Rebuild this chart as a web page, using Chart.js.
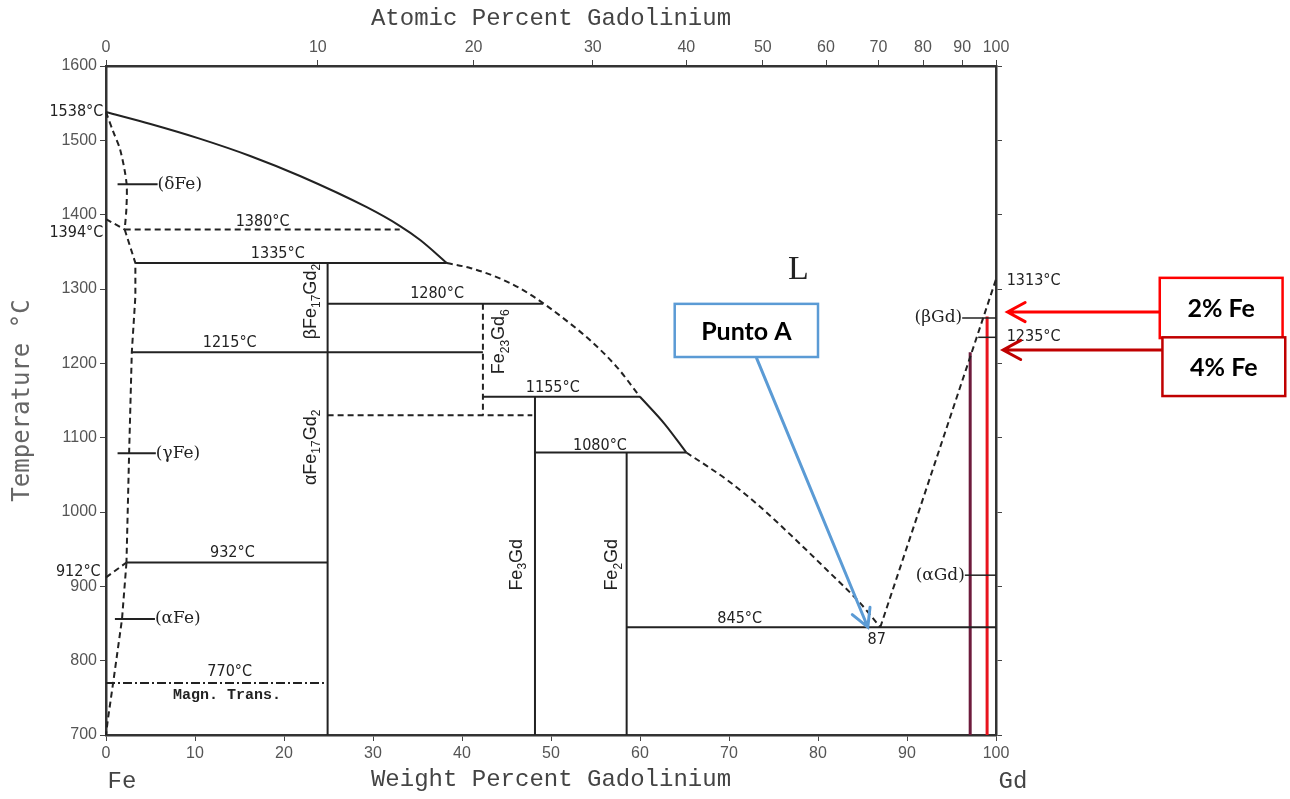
<!DOCTYPE html>
<html>
<head>
<meta charset="utf-8">
<title>Fe-Gd phase diagram</title>
<script src="https://cdn.jsdelivr.net/npm/chart.js@4.4.1/dist/chart.umd.min.js"></script>
<style>
  html, body { margin: 0; padding: 0; background: #fff; }
  canvas { display: block; }
</style>
</head>
<body>
<canvas id="myChart" width="1290" height="799"></canvas>
<script>
'use strict';

// axis ticks
let wtTicks = [0, 10, 20, 30, 40, 50, 60, 70, 80, 90, 100];
let tempTicks = [700, 800, 900, 1000, 1100, 1200, 1300, 1400, 1500, 1600];
let atTickLabels = [0, 10, 20, 30, 40, 50, 60, 70, 80, 90, 100];
// where the atomic % ticks sit on the weight % scale
let atTickPos = [0, 23.8, 41.3, 54.7, 65.2, 73.8, 80.9, 86.8, 91.8, 96.2, 100];

// liquidus  [wt% Gd, °C]
let liquidusFe = [[0, 1538], [5, 1522], [10.6, 1502], [16.2, 1479], [21.8, 1452], [29.3, 1410], [33, 1385], [35.3, 1366], [38.3, 1335]];
let liquidusMid = [[38.3, 1335], [41, 1328], [43.9, 1316], [46.5, 1301], [49.1, 1281], [52.1, 1254], [54.4, 1231], [57.4, 1195], [60, 1155]];
let liquidusFe2Gd = [[60, 1155], [62.8, 1118], [65.2, 1080]];
let liquidusLow = [[65.2, 1080], [67.5, 1062], [69.8, 1043], [73.5, 1007], [77.2, 966], [81, 922], [84.7, 878], [87, 845]];
let liquidusGd = [[87, 845], [100, 1313]];

// iron side boundaries
let deltaBound = [[0, 1538], [0.8, 1512], [1.6, 1487], [2.3, 1443], [2.3, 1410], [2.1, 1380]];
let line1394 = [[0, 1394], [2.1, 1380]];
let gammaBound = [[2.1, 1380], [3.3, 1335], [3.3, 1290], [2.9, 1215], [2.6, 1080], [2.3, 932]];
let line912 = [[0, 912], [2.3, 932]];
let alphaBound = [[2.3, 932], [1.8, 856], [0.8, 770], [0.2, 720], [0, 700]];

// invariant lines
let h1380 = [[2.1, 1380], [33, 1380]];
let h1335 = [[3.3, 1335], [38.3, 1335]];
let h1280 = [[24.9, 1280], [49.1, 1280]];
let h1215 = [[2.9, 1215], [42.35, 1215]];
let h1155 = [[42.35, 1155], [60, 1155]];
let h1130 = [[24.9, 1130], [47.9, 1130]];
let h1080 = [[48.2, 1080], [65.2, 1080]];
let h932 = [[2.3, 932], [24.9, 932]];
let h845 = [[58.5, 845], [100, 845]];
let h770 = [[0, 770], [24.9, 770]];

// compounds
let fe17Gd2 = [[24.9, 700], [24.9, 1335]];
let fe23Gd6 = [[42.35, 1280], [42.35, 1130]];
let fe3Gd = [[48.2, 700], [48.2, 1155]];
let fe2Gd = [[58.5, 700], [58.5, 1080]];

// phase markers
let markDeltaFe = [[1.3, 1441], [5.8, 1441]];
let markGammaFe = [[1.3, 1079], [5.6, 1079]];
let markAlphaFe = [[1.0, 856], [5.5, 856]];
let markBetaGd = [[96.2, 1261], [100, 1261]];
let markAlphaGd = [[96.5, 915], [100, 915]];
let mark1235 = [[98, 1235], [100, 1235]];

// alloys 4% Fe and 2% Fe
let alloy4Fe = [[97.1, 700], [97.1, 1215]];
let alloy2Fe = [[99, 700], [99, 1263]];

let tempLabels = [
  ['1538°C', -0.3, 1538, 'right'],
  ['1394°C', -0.3, 1376, 'right'],
  ['912°C', -0.6, 919, 'right'],
  ['1313°C', 101.2, 1311, 'left'],
  ['1235°C', 101.2, 1235, 'left'],
  ['1380°C', 17.6, 1390, 'center'],
  ['1335°C', 19.3, 1347, 'center'],
  ['1280°C', 37.2, 1293, 'center'],
  ['1215°C', 13.9, 1227, 'center'],
  ['1155°C', 50.2, 1167, 'center'],
  ['1080°C', 55.5, 1089, 'center'],
  ['932°C', 14.2, 945, 'center'],
  ['770°C', 13.9, 785, 'center'],
  ['845°C', 71.2, 856, 'center'],
  ['87', 86.6, 828, 'center']
];

let phaseLabels = [
  ['(δFe)', 5.8, 1441, 'left'],
  ['(γFe)', 5.6, 1079, 'left'],
  ['(αFe)', 5.5, 856, 'left'],
  ['(βGd)', 96.2, 1261, 'right'],
  ['(αGd)', 96.5, 915, 'right']
];

let compoundLabels = [
  ['βFe_17Gd_2', 23.0, 1283],
  ['αFe_17Gd_2', 23.0, 1087],
  ['Fe_23Gd_6', 44.2, 1229],
  ['Fe_3Gd', 46.2, 929],
  ['Fe_2Gd', 56.9, 929]
];

let noteBoxes = [
  {text: 'Punto A', x1: 63.9, x2: 80.0, y1: 1280, y2: 1208.5, color: '#5B9BD5'},
  {text: '2% Fe', x1: 118.4, x2: 132.2, y1: 1315, y2: 1234, color: '#FF0000'},
  {text: '4% Fe', x1: 118.7, x2: 132.5, y1: 1235, y2: 1156, color: '#C00000'}
];
let noteArrows = [
  {from: [73.1, 1207], to: [85.6, 845], color: '#5B9BD5'},
  {from: [118.4, 1269], to: [101.3, 1269], color: '#FF0000'},
  {from: [118.7, 1218], to: [100.8, 1218], color: '#C00000'}
];

const INK = '#222';
const dashed = [6, 4];

function seg(points, extra) {
  return Object.assign({
    data: points.map(p => ({x: p[0], y: p[1]})),
    showLine: true,
    pointRadius: 0,
    borderColor: INK,
    borderWidth: 2,
    fill: false,
    tension: 0,
    clip: 6
  }, extra || {});
}

const curve = {cubicInterpolationMode: 'monotone'};

let datasets = [
  seg(liquidusFe, curve),
  seg(liquidusMid, Object.assign({borderDash: dashed}, curve)),
  seg(liquidusFe2Gd, curve),
  seg(liquidusLow, Object.assign({borderDash: dashed}, curve)),
  seg(liquidusGd, {borderDash: dashed}),
  seg(deltaBound, {borderDash: dashed, tension: 0.3}),
  seg(line1394, {borderDash: dashed}),
  seg(gammaBound, {borderDash: dashed}),
  seg(line912, {borderDash: dashed}),
  seg(alphaBound, {borderDash: dashed}),
  seg(h1380, {borderDash: dashed}),
  seg(h1335),
  seg(h1280),
  seg(h1215),
  seg(h1155),
  seg(h1130, {borderDash: dashed}),
  seg(h1080),
  seg(h932),
  seg(h845),
  seg(h770, {borderDash: [9, 3, 2, 3]}),
  seg(fe17Gd2),
  seg(fe23Gd6, {borderDash: dashed}),
  seg(fe3Gd),
  seg(fe2Gd),
  seg(markDeltaFe),
  seg(markGammaFe),
  seg(markAlphaFe),
  seg(markBetaGd, {borderWidth: 1.5}),
  seg(markAlphaGd, {borderWidth: 1.5}),
  seg(mark1235, {borderWidth: 1.5}),
  seg(alloy4Fe, {borderColor: '#6E1B3C', borderWidth: 3}),
  seg(alloy2Fe, {borderColor: '#E8141E', borderWidth: 3})
];

const LABEL_FONT = "16px 'Liberation Sans Narrow', 'DejaVu Sans Condensed', 'Liberation Sans', sans-serif";

function drawFormula(ctx, formula, x, y) {
  // text with _digits as subscripts, rotated to read upwards
  let parts = formula.split(/_(\d+)/);
  let big = "18px 'Liberation Sans', sans-serif";
  let small = "12px 'Liberation Sans', sans-serif";
  let total = 0;
  parts.forEach((p, i) => {
    ctx.font = i % 2 ? small : big;
    total += ctx.measureText(p).width;
  });
  ctx.save();
  ctx.translate(x, y);
  ctx.rotate(-Math.PI / 2);
  ctx.textAlign = 'left';
  ctx.textBaseline = 'middle';
  let cx = -total / 2;
  parts.forEach((p, i) => {
    ctx.font = i % 2 ? small : big;
    ctx.fillText(p, cx, i % 2 ? 6 : 0);
    cx += ctx.measureText(p).width;
  });
  ctx.restore();
}

function drawArrow(ctx, x1, y1, x2, y2, color) {
  let ang = Math.atan2(y2 - y1, x2 - x1);
  let head = 20;
  ctx.strokeStyle = color;
  ctx.lineWidth = 3;
  ctx.lineCap = 'round';
  ctx.beginPath();
  ctx.moveTo(x1, y1);
  ctx.lineTo(x2, y2);
  ctx.moveTo(x2 - head * Math.cos(ang - 0.5), y2 - head * Math.sin(ang - 0.5));
  ctx.lineTo(x2, y2);
  ctx.lineTo(x2 - head * Math.cos(ang + 0.5), y2 - head * Math.sin(ang + 0.5));
  ctx.stroke();
}

const diagramNotes = {
  id: 'diagramNotes',
  afterDatasetsDraw(chart) {
    let ctx = chart.ctx;
    let px = v => chart.scales.x.getPixelForValue(v);
    let py = v => chart.scales.y.getPixelForValue(v);
    ctx.save();

    ctx.fillStyle = INK;
    ctx.textBaseline = 'middle';
    ctx.font = LABEL_FONT;
    tempLabels.forEach(l => {
      ctx.textAlign = l[3];
      ctx.fillText(l[0], px(l[1]), py(l[2]));
    });

    ctx.font = "bold 15px 'Liberation Mono', monospace";
    ctx.textAlign = 'center';
    ctx.fillText('Magn. Trans.', px(13.6), py(754));

    ctx.font = "17px 'DejaVu Serif', serif";
    phaseLabels.forEach(l => {
      ctx.textAlign = l[3];
      ctx.fillText(l[0], px(l[1]), py(l[2]));
    });

    ctx.font = "34px 'Liberation Serif', serif";
    ctx.textAlign = 'center';
    ctx.fillText('L', px(77.8), py(1326));

    compoundLabels.forEach(l => drawFormula(ctx, l[0], px(l[1]), py(l[2])));

    ctx.fillStyle = '#444';
    ctx.font = "24px 'Liberation Mono', monospace";
    ctx.fillText('Fe', px(1.8), py(637));
    ctx.fillText('Gd', px(101.9), py(637));

    noteArrows.forEach(a => drawArrow(ctx, px(a.from[0]), py(a.from[1]), px(a.to[0]), py(a.to[1]), a.color));

    noteBoxes.forEach(b => {
      let x = px(b.x1), y = py(b.y1);
      let w = px(b.x2) - x, h = py(b.y2) - y;
      ctx.fillStyle = '#fff';
      ctx.fillRect(x, y, w, h);
      ctx.strokeStyle = b.color;
      ctx.lineWidth = 2.5;
      ctx.strokeRect(x, y, w, h);
      ctx.fillStyle = '#000';
      ctx.font = "bold 25px Lato, 'Open Sans', sans-serif";
      ctx.textAlign = 'center';
      ctx.fillText(b.text, x + w / 2, y + h / 2 + 1);
    });

    ctx.restore();
  }
};

const axisBorder = {display: true, color: '#333', width: 2.5, dash: [1.5, 2]};
const tickFont = {family: "'Liberation Sans', sans-serif", size: 16};
const titleFont = {family: "'Liberation Mono', monospace", size: 24};
const plainTick = v => String(v);

let ctx = document.getElementById('myChart');

let config = {
  type: 'scatter',
  data: {datasets: datasets},
  options: {
    responsive: false,
    animation: false,
    devicePixelRatio: 1,
    layout: {padding: 0},
    plugins: {
      legend: {display: false},
      tooltip: {enabled: false}
    },
    scales: {
      x: {
        type: 'linear',
        position: 'bottom',
        min: 0,
        max: 100,
        afterBuildTicks: axis => { axis.ticks = wtTicks.map(v => ({value: v})); },
        afterFit: axis => { axis.height = 64; },
        ticks: {color: '#555', font: tickFont, padding: 3, autoSkip: false, maxRotation: 0, callback: plainTick},
        grid: {drawOnChartArea: false, drawTicks: true, tickLength: 6, color: '#444'},
        border: axisBorder,
        title: {display: true, text: 'Weight Percent Gadolinium', color: '#444', font: titleFont, padding: {bottom: 5}}
      },
      x2: {
        type: 'linear',
        position: 'top',
        min: 0,
        max: 100,
        afterBuildTicks: axis => { axis.ticks = atTickPos.map(v => ({value: v})); },
        afterFit: axis => { axis.height = 66; },
        ticks: {
          color: '#555', font: tickFont, padding: 3, autoSkip: false, maxRotation: 0,
          callback: (value, index) => String(atTickLabels[index])
        },
        grid: {drawOnChartArea: false, drawTicks: true, tickLength: 6, color: '#444'},
        border: axisBorder,
        title: {display: true, text: 'Atomic Percent Gadolinium', color: '#444', font: titleFont, padding: {top: 4}}
      },
      y: {
        type: 'linear',
        position: 'left',
        min: 700,
        max: 1600,
        afterBuildTicks: axis => { axis.ticks = tempTicks.map(v => ({value: v})); },
        afterFit: axis => { axis.width = 106; },
        ticks: {color: '#555', font: tickFont, padding: 3, callback: plainTick},
        grid: {drawOnChartArea: false, drawTicks: true, tickLength: 6, color: '#444'},
        border: axisBorder,
        title: {display: true, text: 'Temperature °C', color: '#666', font: {family: "'DejaVu Sans Mono', monospace", size: 24}, padding: {top: 8}}
      },
      y2: {
        type: 'linear',
        position: 'right',
        min: 700,
        max: 1600,
        afterBuildTicks: axis => { axis.ticks = tempTicks.map(v => ({value: v})); },
        afterFit: axis => { axis.width = 294; },
        ticks: {display: false},
        grid: {drawOnChartArea: false, drawTicks: true, tickLength: 6, color: '#444'},
        border: axisBorder
      }
    }
  },
  plugins: [diagramNotes]
};

new Chart(ctx, config);
</script>
</body>
</html>
